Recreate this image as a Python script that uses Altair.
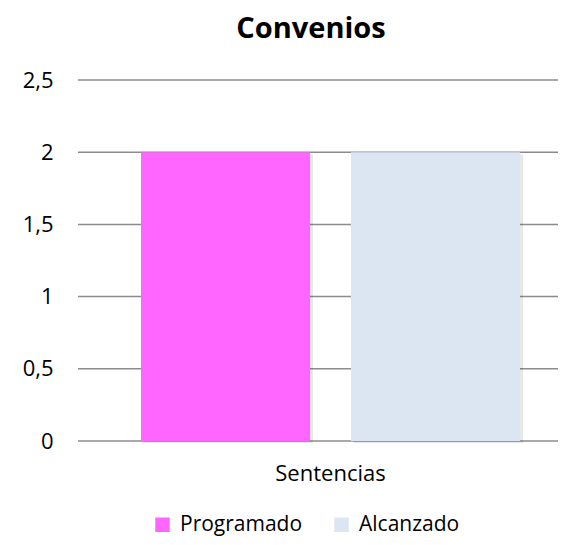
import altair as alt
import pandas as pd

categories = ["Sentencias", "Sentencias"]
series = ["Programado", "Alcanzado"]
values = [2, 2]
colors = ["#FF66FF", "#DCE6F2"]
y_ticks = [0, 0.5, 1, 1.5, 2, 2.5]

df = pd.DataFrame({"cat": categories, "serie": series, "valor": values})
grid_df = pd.DataFrame({"valor": y_ticks})

FONT = "Open Sans"

xoff = alt.XOffset("serie:N", sort=series,
                   scale=alt.Scale(paddingInner=0.195, paddingOuter=0))
y_axis = alt.Axis(values=y_ticks, ticks=False, domain=False, grid=False,
                  labelFontSize=22, labelColor="#000", labelPadding=25,
                  labelFont=FONT,
                  labelExpr="replace(toString(datum.value), '.', ',')")
y_enc = alt.Y("valor:Q", title=None,
              scale=alt.Scale(domain=[0, 2.5], nice=False), axis=y_axis)

grid = alt.Chart(grid_df).mark_rule(color="#8C8C8C", strokeWidth=1.5).encode(
    y=y_enc,
    x=alt.value(0), x2=alt.value(482)
)

shadow = alt.Chart(df).mark_bar(color="#000000", opacity=0.09, yOffset=2).encode(
    x=alt.X("cat:N", title=None, axis=None,
            scale=alt.Scale(range=[66, 445], paddingInner=0, paddingOuter=0)),
    xOffset=xoff, y=y_enc
)

bars = alt.Chart(df).mark_bar().encode(
    x=alt.X("cat:N", title=None,
            scale=alt.Scale(range=[63, 442], paddingInner=0, paddingOuter=0),
            axis=alt.Axis(labelAngle=0, ticks=False, domain=False, grid=False,
                          labelFontSize=22, labelColor="#000", labelPadding=22,
                          labelFont=FONT)),
    xOffset=xoff, y=y_enc,
    color=alt.Color("serie:N", sort=series,
                    scale=alt.Scale(domain=series, range=colors),
                    legend=alt.Legend(title=None, orient="none", direction="horizontal",
                                      legendX=74, legendY=434,
                                      symbolType="square", symbolSize=210,
                                      symbolStrokeWidth=0, labelFontSize=21,
                                      labelFont=FONT, labelColor="#000",
                                      labelOffset=7, columnPadding=28))
)

chart = alt.layer(grid, shadow, bars).resolve_scale(x="independent").properties(
    width=480, height=361,
    autosize=alt.AutoSizeParams(type="none"),
    padding={"left": 70, "top": 72, "right": 0, "bottom": 96},
    view=alt.ViewBackground(stroke="transparent", strokeWidth=0, strokeOpacity=0),
    title=alt.Title("Convenios", font=FONT, fontSize=29, fontWeight="bold",
                    color="#000", anchor="middle", dx=-7, offset=25),
).configure_view(stroke="transparent", strokeWidth=0, strokeOpacity=0).configure(background="white")

chart.save("out.html", embed_options={"renderer": "svg", "actions": False})
